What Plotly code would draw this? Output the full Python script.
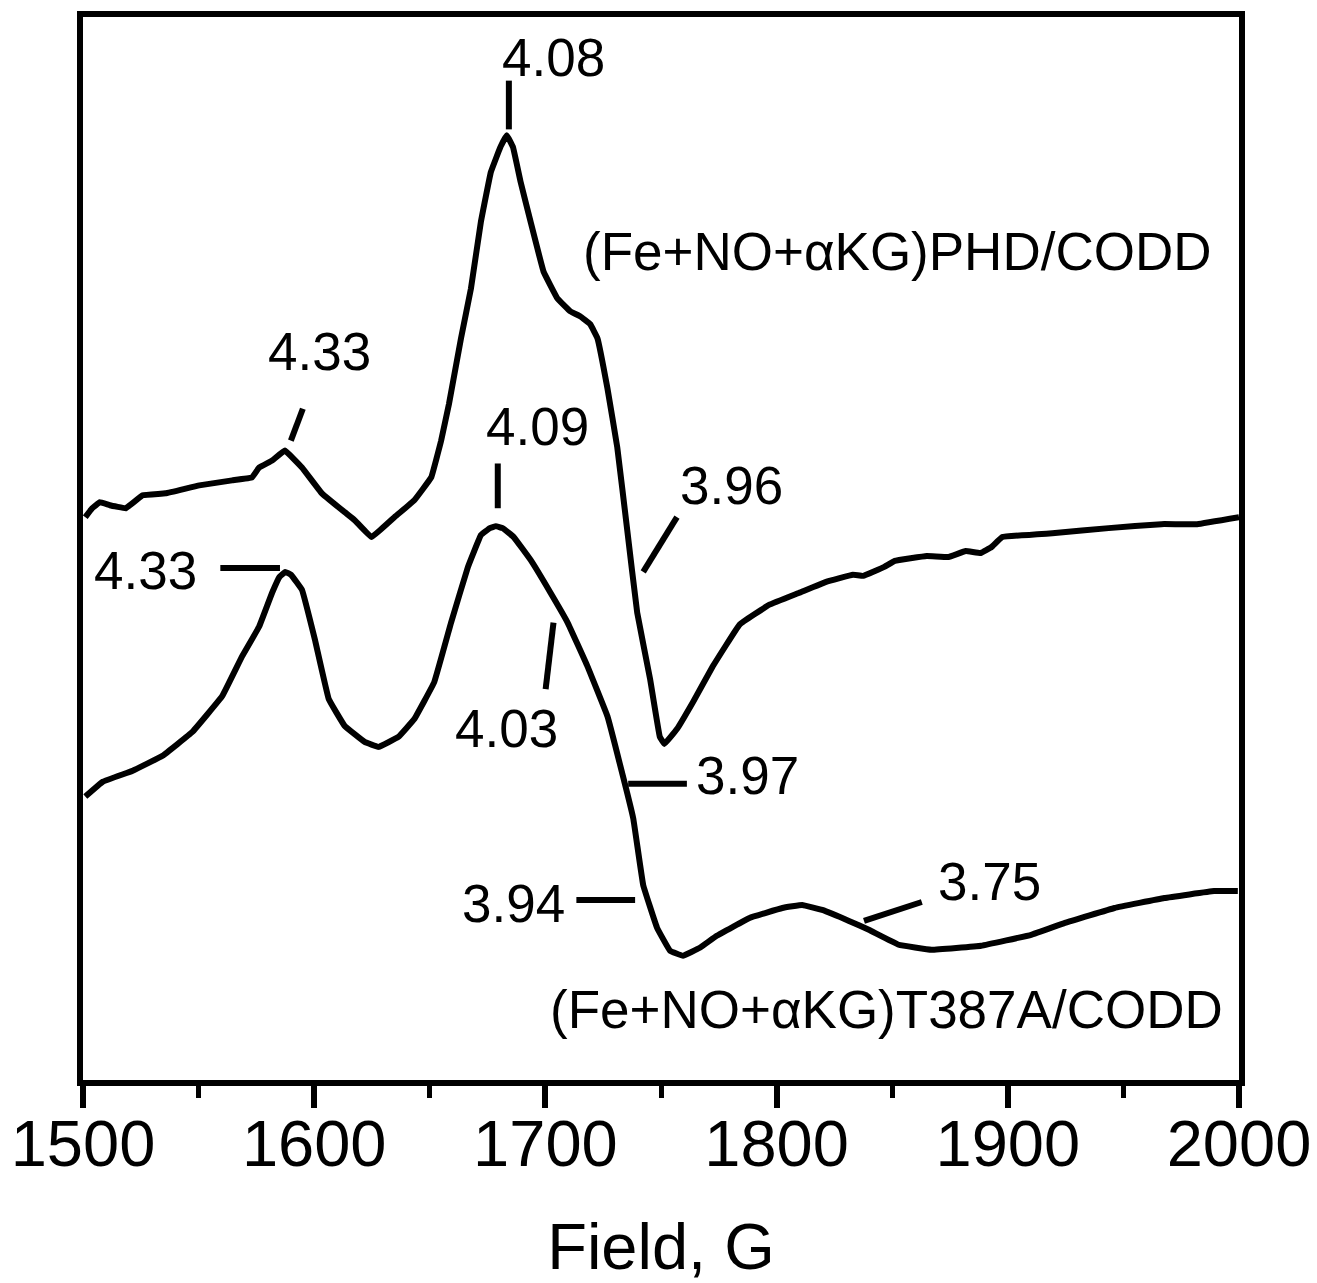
import plotly.graph_objects as go

# ---- Data (field in G, intensity in arbitrary units) ----
field_phd = [1501, 1504.0, 1507.3, 1511.6, 1518.5, 1525.8, 1535.7, 1550.3, 1564.5, 1573.1,
             1576.2, 1581.8, 1587.3, 1594.7, 1603.3, 1613.2, 1617.5, 1624.8, 1634.7, 1643.3,
             1650.6, 1654.9, 1658.3, 1663.5, 1667.8, 1672.1, 1676.4, 1680.5, 1683.3, 1686.0,
             1689.3, 1693.6, 1699.2, 1705.2, 1710.8, 1715.0, 1719.4, 1722.5, 1726.8, 1731.1,
             1735.4, 1739.7, 1745.3, 1749.5, 1751.5, 1756.9, 1763.8, 1772.4, 1784.0, 1796.9,
             1809.8, 1821.4, 1833.0, 1837.5, 1846.6, 1851.1, 1864.9, 1874.4, 1881.8, 1888.3,
             1893.0, 1897.6, 1920.4, 1943.6, 1966.4, 1981.9, 2000]
signal_phd = [566, 575, 581, 578, 575, 588, 590, 598, 603, 606,
              616, 623, 633, 616, 590, 571, 563, 546, 566, 583,
              606, 643, 680, 746, 796, 863, 913, 938, 950, 938,
              903, 863, 813, 786, 773, 768, 760, 746, 696, 636,
              553, 470, 403, 345, 338, 353, 380, 416, 458, 478,
              490, 501, 508, 507, 516, 522, 527, 526, 532, 530,
              536, 546, 550, 555, 559, 559, 566]

field_t387a = [1501, 1508.6, 1521.5, 1534.4, 1547.3, 1560.2, 1568.8, 1576.2, 1581.8, 1585.0,
               1587.5, 1590.0, 1594.7, 1600.3, 1606.3, 1613.2, 1621.8, 1627.8, 1636.4, 1643.3,
               1651.9, 1659.2, 1666.5, 1672.1, 1676.0, 1678.6, 1681.5, 1686.3, 1693.6, 1702.2,
               1709.6, 1718.2, 1726.8, 1732.4, 1738.0, 1742.3, 1748.3, 1753.9, 1759.5, 1766.8,
               1774.1, 1788.3, 1802.5, 1811.1, 1819.7, 1831.3, 1839.9, 1852.8, 1867.0, 1888.5,
               1910.1, 1924.7, 1946.2, 1967.7, 1989.2, 1999.5]
signal_t387a = [285, 300, 311, 326, 350, 386, 426, 456, 490, 506,
                511, 508, 493, 443, 383, 356, 340, 335, 345, 363,
                400, 460, 516, 548, 555, 557, 555, 546, 523, 490,
                460, 416, 366, 316, 263, 196, 153, 130, 125, 133,
                145, 163, 173, 176, 171, 160, 151, 136, 131, 135,
                146, 158, 173, 183, 190, 190]

# g-value labels: text, text position, marker segment (x0, y0, x1, y1)
g_labels = ["4.08", "4.33", "3.96", "4.09", "4.33", "4.03", "3.97", "3.94", "3.75"]
g_text_x = [1703.5, 1602.4, 1780.6, 1696.6, 1527.1, 1683.3, 1787.4, 1686.3, 1892.0]
g_text_y = [1028, 733, 598, 657, 512, 353, 306, 178, 200]
g_seg_x0 = [1684.2, 1589.9, 1756.9, 1679.4, 1559.4, 1703.5, 1735.8, 1713.4, 1837.8]
g_seg_y0 = [1005, 643, 566, 620, 515, 460, 298, 181, 160]
g_seg_x1 = [1684.2, 1595.1, 1742.3, 1679.4, 1585.2, 1700.1, 1761.2, 1738.8, 1862.8]
g_seg_y1 = [956, 675, 511, 575, 515, 393, 298, 181, 179]

sample_labels = ["(Fe+NO+αKG)PHD/CODD", "(Fe+NO+αKG)T387A/CODD"]
sample_x = [1852.0, 1847.7]
sample_y = [833, 71]

x_ticks = [1500, 1600, 1700, 1800, 1900, 2000]

FONT = "Liberation Sans, Arial, sans-serif"

fig = go.Figure()
for fx, sy in [(field_phd, signal_phd), (field_t387a, signal_t387a)]:
    fig.add_trace(go.Scatter(x=fx, y=sy, mode="lines",
                             line=dict(color="black", width=6, shape="spline", smoothing=0.2),
                             showlegend=False, hoverinfo="skip"))

for i, t in enumerate(g_labels):
    fig.add_annotation(x=g_text_x[i], y=g_text_y[i], text=t, showarrow=False,
                       font=dict(family=FONT, size=53, color="black"),
                       xanchor="center", yanchor="middle")
    fig.add_shape(type="line", x0=g_seg_x0[i], y0=g_seg_y0[i], x1=g_seg_x1[i], y1=g_seg_y1[i],
                  xref="x", yref="y", line=dict(color="black", width=6))

for i, t in enumerate(sample_labels):
    fig.add_annotation(x=sample_x[i], y=sample_y[i], text=t, showarrow=False,
                       font=dict(family=FONT, size=53, color="black"),
                       xanchor="center", yanchor="middle")

# page has an 8px body margin, so the figure is sized/offset to compensate
fig.update_layout(
    width=1309, height=1275,
    margin=dict(l=75, r=78, t=9, b=203, autoexpand=False),
    paper_bgcolor="white", plot_bgcolor="white",
    font=dict(family=FONT, color="black"),
)
fig.update_xaxes(
    range=[1500, 2000], tickvals=x_ticks, ticktext=[str(v) for v in x_ticks],
    automargin=False,
    showline=True, linecolor="black", linewidth=6, mirror=True,
    ticks="outside", ticklen=22, tickwidth=6, tickcolor="black",
    minor=dict(ticks="outside", ticklen=12, tickwidth=5, tickcolor="black", dtick=50, tick0=1500),
    showgrid=False, zeroline=False,
    ticklabelstandoff=-20,
    tickfont=dict(family=FONT, size=65, color="black"),
    title=dict(text="Field, G", font=dict(family=FONT, size=65, color="black"), standoff=55),
)
fig.update_yaxes(
    range=[0, 1069], automargin=False, showline=True, linecolor="black", linewidth=6, mirror=True,
    ticks="", showticklabels=False, showgrid=False, zeroline=False,
)

fig.write_html("out.html")
